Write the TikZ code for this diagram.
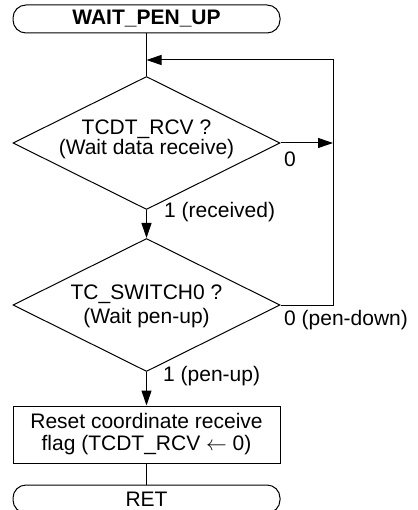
\documentclass[tikz,border=0pt]{standalone}
\usepackage{fontspec}
\setmainfont{Liberation Sans}
\usetikzlibrary{shapes.geometric,arrows.meta}
\begin{document}
\begin{tikzpicture}[x=1pt,y=-1pt,
  every node/.style={font=\fontsize{21}{21}\selectfont, inner sep=0pt},
  line/.style={line width=1pt, black},
  arr/.style={line, -{Triangle[length=15pt,width=10pt]}},
  term/.style={draw, line width=1pt, rounded corners=13pt, minimum width=267pt, minimum height=28pt},
  dec/.style={draw, line width=1pt, diamond, minimum width=267pt, minimum height=133pt, inner sep=0pt},
  proc/.style={draw, line width=1pt, minimum width=267pt, minimum height=57pt},
  lbl/.style={anchor=west}
]
\clip (0,0) rectangle (417,510);
\useasboundingbox (0,0) rectangle (417,510);
\node[term] (start) at (146.5,19) {\textbf{WAIT\_PEN\_UP}};
\node[dec] (d1) at (146.5,143) {};
\node[align=center, font=\fontsize{21}{20}\selectfont] (t1) at (146.5,139) {TCDT\_RCV ?\\(Wait data receive)};
\node[dec] (d2) at (146.5,305) {};
\node[align=center, font=\fontsize{21}{24}\selectfont] (t2) at (146.5,306) {TC\_SWITCH0 ?\\(Wait pen-up)};
\node[proc, align=center, font=\fontsize{21}{22}\selectfont] (p) at (146.5,434.5) {Reset coordinate receive\\flag (TCDT\_RCV $\leftarrow$ 0)};
\node[term] (ret) at (146.5,499) {RET};
\coordinate (j) at (146.5,60);
\coordinate (rt) at (333,60);
\coordinate (r1) at (333,143);
\coordinate (r2) at (333,305);
\draw[line] (start.south) -- (d1.north);
\draw[arr] (d1.east) -- (r1);
\draw[line] (d2.east) -- (r2) -- (rt) -- ++(-170,0);
\draw[arr] (rt) -- (j);
\draw[arr] (d1.south) -- (d2.north);
\draw[arr] (d2.south) -- (p.north);
\draw[line] (p.south) -- (ret.north);
\node[lbl] (l0) at (284,159) {0};
\node[lbl] (l1) at (164,212) {1 (received)};
\node[lbl] (l2) at (284,320) {0 (pen-down)};
\node[lbl] (l3) at (163,376) {1 (pen-up)};
\end{tikzpicture}
\end{document}
